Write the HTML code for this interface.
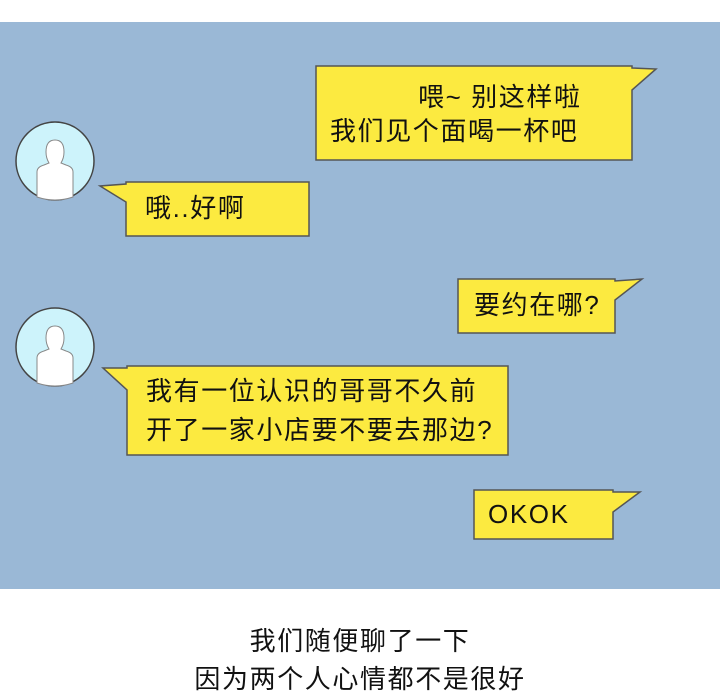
<!DOCTYPE html>
<html><head><meta charset="utf-8"><style>
body{margin:0;width:720px;height:700px;background:#fff;position:relative;overflow:hidden;font-family:"Liberation Sans","Noto Sans CJK SC",sans-serif}
.t{position:absolute;font-size:26px;letter-spacing:1.6px;color:#111;line-height:34px;white-space:nowrap}
.c{position:absolute;left:0;width:720px;text-align:center;font-size:26px;letter-spacing:1.6px;color:#111;line-height:38px}
</style></head><body>
<svg width="720" height="700" style="position:absolute;left:0;top:0">
<rect x="0" y="22" width="720" height="567" fill="#9ab8d6"/>
<g fill="#fcea40" stroke="#555" stroke-width="1.5">
<path d="M316,66H632V68L656,69L632,90V160H316Z"/>
<path d="M126,182H309V236H126V202L100,186L126,184Z"/>
<path d="M458,279H615V281L642,279L615,300V333H458Z"/>
<path d="M127,366H508V455H127V390L103,368L127,368Z"/>
<path d="M474,490H613V492L640,492L613,512V539H474Z"/>
</g>
<g>
<circle cx="55" cy="161" r="39" fill="#cdf3fb" stroke="#444" stroke-width="1.5"/>
<circle cx="55" cy="347" r="39" fill="#cdf3fb" stroke="#444" stroke-width="1.5"/>
<path d="M37,197V172Q37,167 44,165L49,163Q46,158 46,152Q46,140 55,140Q64,140 64,152Q64,158 61,163L66,165Q73,167 73,172V197Q64,200 55,200Q46,200 37,197Z" fill="#fff" stroke="#888"/>
<path d="M37,383V358Q37,353 44,351L49,349Q46,344 46,338Q46,326 55,326Q64,326 64,338Q64,344 61,349L66,351Q73,353 73,358V383Q64,386 55,386Q46,386 37,383Z" fill="#fff" stroke="#888"/>
</g>
</svg>
<div class="t" style="left:418px;top:80px">喂~ 别这样啦</div>
<div class="t" style="left:330px;top:114px">我们见个面喝一杯吧</div>
<div class="t" style="left:145px;top:191px">哦..好啊</div>
<div class="t" style="left:474px;top:288px">要约在哪?</div>
<div class="t" style="left:146px;top:374px">我有一位认识的哥哥不久前</div>
<div class="t" style="left:146px;top:413px">开了一家小店要不要去那边?</div>
<div class="t" style="left:488px;top:497px">OKOK</div>
<div class="c" style="top:622px">我们随便聊了一下</div>
<div class="c" style="top:660px">因为两个人心情都不是很好</div>
</body></html>
